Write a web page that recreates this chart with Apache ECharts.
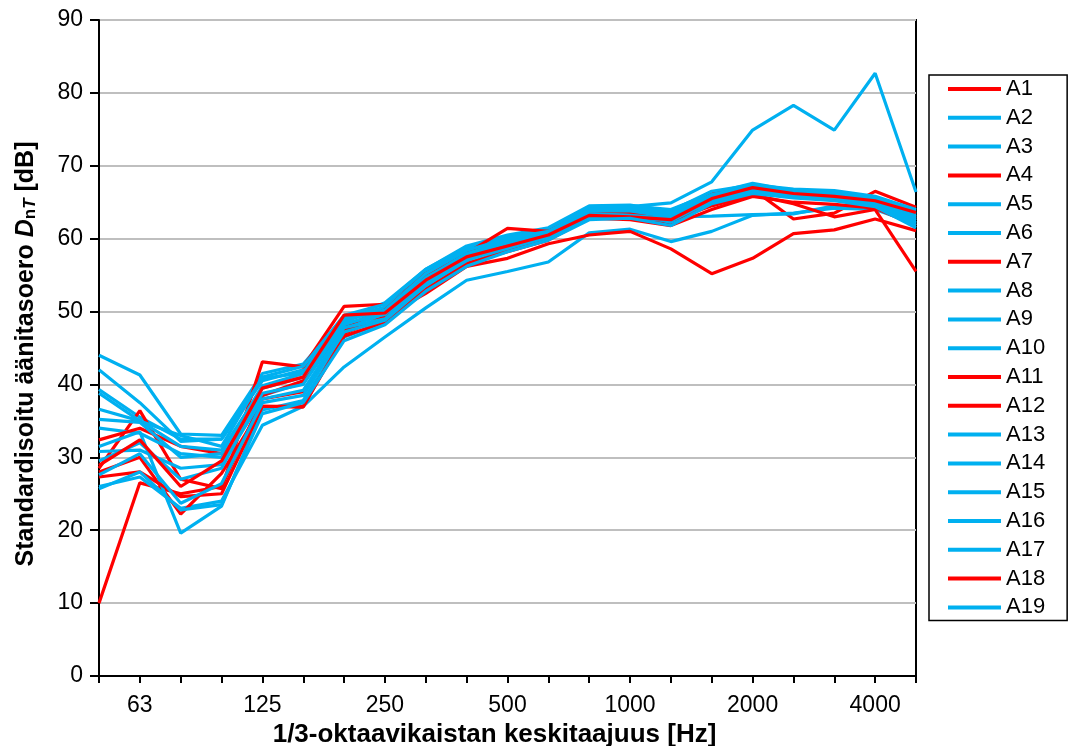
<!DOCTYPE html>
<html>
<head>
<meta charset="utf-8">
<script src="https://cdn.jsdelivr.net/npm/echarts@6/dist/echarts.min.js"></script>
<style>
  html, body { margin: 0; padding: 0; background: #fff; }
  #chart { width: 1071px; height: 746px; }
</style>
</head>
<body>
<div id="chart"></div>
<script>
// 1/3-octave band centre frequencies (Hz)
const bands = ['50', '63', '80', '100', '125', '160', '200', '250', '315', '400', '500',
               '630', '800', '1000', '1250', '1600', '2000', '2500', '3150', '4000', '5000'];
// bands that carry a tick label
const labelledBands = ['63', '125', '250', '500', '1000', '2000', '4000'];

// Standardised level difference DnT per band (dB)
const A1  = [10.0, 26.5, 25.0, 26.0, 38.0, 39.0, 47.5, 49.0, 53.8, 57.2, 58.8, 60.3, 63.0, 63.2, 62.0, 64.8, 66.3, 65.8, 65.5, 64.8, 62.8];
const A2  = [39.3, 35.5, 32.5, 32.5, 40.5, 42.0, 49.0, 51.2, 55.8, 58.8, 59.8, 61.2, 64.2, 64.4, 64.9, 67.8, 74.9, 78.3, 74.9, 82.7, 66.4];
const A3  = [44.0, 41.3, 33.2, 33.0, 41.5, 42.8, 49.2, 50.6, 55.5, 58.6, 60.2, 61.2, 64.4, 64.5, 64.0, 66.2, 67.6, 66.6, 66.4, 65.6, 63.4];
const A4  = [28.5, 36.4, 27.0, 25.7, 43.1, 42.4, 50.7, 51.0, 54.8, 57.8, 59.3, 60.8, 63.6, 63.4, 63.0, 66.4, 66.8, 62.7, 63.5, 66.5, 64.3];
const A5  = [26.0, 27.3, 23.0, 24.0, 34.4, 37.0, 42.4, 46.5, 50.5, 54.3, 55.5, 56.8, 60.8, 61.3, 59.6, 61.0, 63.2, 63.5, 64.2, 64.0, 62.0];
const A6  = [34.0, 33.3, 30.5, 30.0, 38.5, 40.2, 48.0, 49.5, 53.9, 57.0, 59.0, 60.5, 63.2, 63.5, 63.0, 63.1, 63.3, 63.4, 64.5, 64.3, 62.6];
const A7  = [28.0, 30.0, 22.2, 27.8, 37.0, 36.9, 47.0, 49.3, 52.5, 56.2, 57.3, 59.3, 60.5, 61.0, 58.6, 55.2, 57.3, 60.7, 61.2, 62.7, 61.1];
const A8  = [31.5, 33.5, 19.6, 23.3, 36.5, 37.8, 46.5, 48.5, 53.2, 56.6, 58.5, 60.0, 63.6, 63.8, 62.2, 65.0, 66.6, 66.0, 66.0, 65.0, 62.8];
const A9  = [42.0, 37.5, 32.2, 32.5, 40.8, 41.6, 48.6, 50.6, 55.0, 58.2, 59.8, 61.0, 64.2, 64.0, 63.5, 66.0, 67.2, 66.5, 66.3, 65.4, 63.8];
const A10 = [38.8, 35.0, 33.0, 31.5, 41.0, 42.5, 49.5, 51.0, 55.8, 59.0, 60.5, 61.5, 64.5, 64.6, 63.8, 66.5, 67.4, 66.8, 66.6, 65.8, 64.0];
const A11 = [32.4, 34.0, 31.5, 30.5, 38.5, 40.5, 48.0, 50.2, 55.2, 58.0, 61.4, 61.0, 63.8, 63.6, 62.5, 64.5, 66.0, 64.8, 63.0, 64.0, 55.5];
const A12 = [27.3, 28.0, 24.6, 25.0, 37.0, 37.0, 46.6, 48.6, 53.0, 56.6, 58.2, 59.8, 62.8, 62.6, 61.8, 64.0, 65.8, 65.0, 64.7, 64.2, 61.8];
const A13 = [36.6, 35.0, 31.5, 31.0, 39.5, 41.0, 48.2, 50.0, 54.6, 58.0, 59.5, 60.8, 63.8, 64.0, 63.2, 65.8, 67.0, 66.2, 66.0, 65.2, 63.2];
const A14 = [35.2, 34.8, 30.0, 30.5, 39.8, 41.5, 48.8, 50.2, 55.2, 58.4, 60.0, 61.0, 64.0, 64.2, 63.6, 66.0, 67.3, 66.6, 66.2, 65.0, 62.5];
const A15 = [30.8, 31.0, 28.5, 29.0, 38.0, 39.2, 47.8, 49.0, 54.0, 57.3, 58.8, 60.2, 63.4, 63.2, 62.8, 65.4, 66.8, 66.3, 65.9, 64.8, 62.2];
const A16 = [29.5, 32.0, 27.0, 28.5, 38.8, 40.0, 48.4, 49.6, 54.4, 57.8, 59.4, 60.6, 63.8, 63.8, 63.0, 65.6, 67.0, 66.4, 66.2, 65.5, 63.0];
const A17 = [27.6, 30.5, 23.7, 26.4, 37.5, 38.5, 47.2, 48.8, 53.6, 57.0, 59.0, 60.2, 63.0, 63.0, 62.4, 65.2, 66.4, 65.8, 65.6, 64.6, 61.8];
const A18 = [28.9, 32.4, 26.0, 29.5, 39.5, 41.0, 49.5, 49.8, 54.3, 57.5, 59.0, 60.5, 63.2, 63.0, 62.6, 65.5, 67.0, 66.2, 65.8, 65.2, 63.6];
const A19 = [25.7, 28.0, 22.8, 23.5, 36.0, 37.5, 46.0, 48.2, 52.8, 56.2, 58.2, 59.8, 62.6, 62.8, 61.8, 64.8, 66.2, 65.6, 65.2, 64.4, 61.5];

const seriesNames = ['A1','A2','A3','A4','A5','A6','A7','A8','A9','A10',
                     'A11','A12','A13','A14','A15','A16','A17','A18','A19'];
const seriesValues = [A1, A2, A3, A4, A5, A6, A7, A8, A9, A10,
                      A11, A12, A13, A14, A15, A16, A17, A18, A19];
// measurement groups: red ones vs. light blue ones
const redSeries = ['A1', 'A4', 'A7', 'A11', 'A12', 'A18'];

const RED = '#FF0000';
const BLUE = '#00B0F0';
const FONT = 'Liberation Sans, Arial, sans-serif';

const chart = echarts.init(document.getElementById('chart'), null, { renderer: 'canvas' });

const series = seriesNames.map((name, k) => {
  const c = redSeries.includes(name) ? RED : BLUE;
  return {
    name: name,
    type: 'line',
    data: seriesValues[k],
    color: c,
    symbol: 'none',
    lineStyle: { color: c, width: 3.2 },
    emphasis: { disabled: true }
  };
});

chart.setOption({
  animation: false,
  backgroundColor: '#ffffff',
  textStyle: { fontFamily: FONT },
  grid: {
    left: 99, right: 155, top: 20, bottom: 70,
    containLabel: false,
    outerBoundsMode: 'none',
    show: true, borderColor: '#000', borderWidth: 2, backgroundColor: 'transparent'
  },
  legend: {
    orient: 'vertical',
    left: 929, top: 75,
    padding: [3, 22, 2, 19],
    borderColor: '#000', borderWidth: 1.5,
    icon: 'rect',
    itemWidth: 53, itemHeight: 4, itemGap: 6.8,
    textStyle: { fontFamily: FONT, fontSize: 22, color: '#000', lineHeight: 22 },
    data: seriesNames
  },
  xAxis: {
    type: 'category',
    data: bands,
    boundaryGap: false,
    name: '1/3-oktaavikaistan keskitaajuus [Hz]',
    nameLocation: 'middle',
    nameGap: 42,
    nameTextStyle: { fontFamily: FONT, fontSize: 26, fontWeight: 'bold', color: '#000', padding: [0, 26, 0, 0] },
    axisLine: { lineStyle: { color: '#000', width: 2 } },
    axisTick: { show: true, interval: 0, length: 7, lineStyle: { color: '#000', width: 2 } },
    axisLabel: {
      interval: 0,
      margin: 18,
      fontFamily: FONT, fontSize: 23, color: '#000',
      formatter: v => labelledBands.includes(v) ? v : ''
    },
    splitLine: { show: false }
  },
  yAxis: {
    type: 'value',
    min: 0, max: 90, interval: 10,
    name: '{b|Standardisoitu äänitasoero }{d|D}{s|n}{t|T}{b| [dB]}',
    nameLocation: 'middle',
    nameRotate: 90,
    nameGap: 60,
    nameTextStyle: {
      color: '#000',
      padding: [0, 12, 0, 0],
      rich: {
        b: { fontFamily: FONT, fontSize: 25, fontWeight: 'bold', color: '#000' },
        d: { fontFamily: FONT, fontSize: 25, fontWeight: 'bold', fontStyle: 'italic', color: '#000' },
        s: { fontFamily: FONT, fontSize: 17, fontWeight: 'bold', color: '#000', padding: [9, 0, 0, 0] },
        t: { fontFamily: FONT, fontSize: 17, fontWeight: 'bold', fontStyle: 'italic', color: '#000', padding: [9, 0, 0, 0] }
      }
    },
    axisLine: { show: true, lineStyle: { color: '#000', width: 2 } },
    axisTick: { show: true, length: 9, lineStyle: { color: '#000', width: 2 } },
    axisLabel: { margin: 16, fontFamily: FONT, fontSize: 23, color: '#000' },
    splitLine: { show: true, lineStyle: { color: '#BFBFBF', width: 2 } }
  },
  series: series
});
</script>
</body>
</html>
